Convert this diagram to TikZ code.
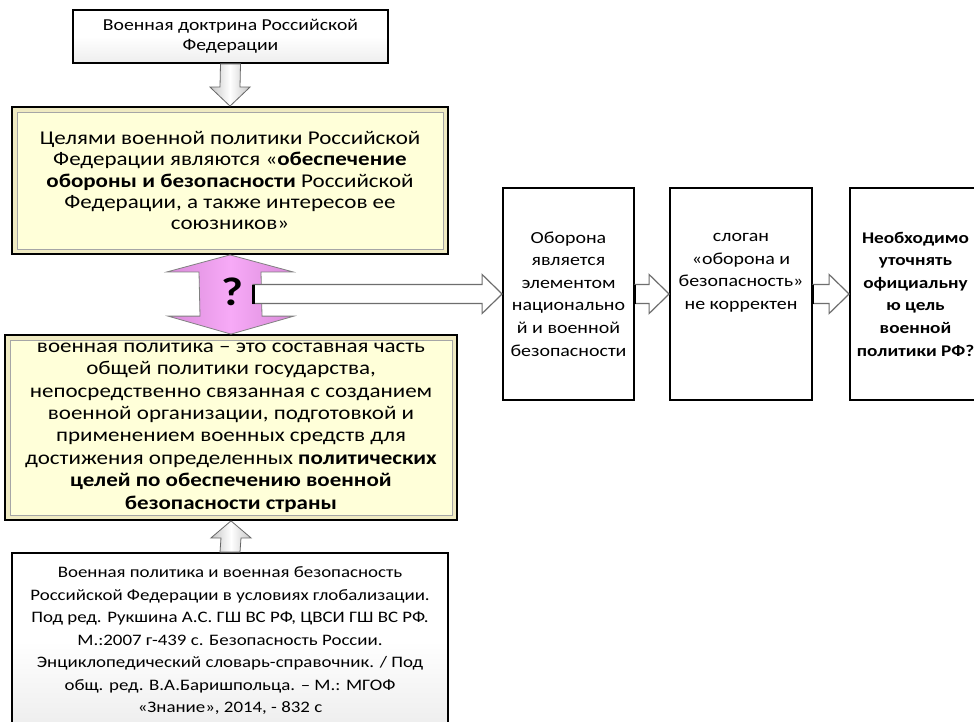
\documentclass[tikz,border=0pt]{standalone}
\usepackage{fontspec}
\setmainfont{Carlito}[FakeStretch=1.18]
\usetikzlibrary{calc}
\definecolor{yellowfill}{HTML}{FFFFD9}
\definecolor{yellowframe}{HTML}{EFEAC2}
\definecolor{pinkmid}{HTML}{F7AAF7}
\definecolor{pinkedge}{HTML}{D98AD9}
\definecolor{arrowgray}{HTML}{6E6E6E}

\tikzset{
  whitebox/.style={draw,line width=1.8pt,top color=white,bottom color=gray!14,middle color=white,align=center,inner sep=0pt},
  yellowbox/.style={draw,line width=1.8pt,fill=yellowframe,align=center,inner sep=0pt,
    path picture={\draw[fill=yellowfill,draw=gray!70,line width=0.8pt] ([shift={(5pt,-5pt)}]path picture bounding box.north west) rectangle ([shift={(-5pt,5pt)}]path picture bounding box.south east);}},
  sidebox/.style={draw,line width=1.8pt,fill=white,align=center,inner sep=0pt,minimum height=212pt,font=\fontsize{16.9}{22.6}\selectfont},
  grayarrow/.style={draw=gray!80!black,line width=0.8pt,left color=gray!45,right color=gray!45,middle color=white},
  pinkarrow/.style={draw=gray,line width=0.8pt,left color=pinkedge,right color=pinkedge,middle color=pinkmid},
  hollowarrow/.style={draw=arrowgray,line width=1.2pt,fill=white},
  arrowtail/.style={line width=3pt,black}
}

\begin{document}
\begin{tikzpicture}[x=1pt,y=-1pt]
  \useasboundingbox[fill=white] (0,0) rectangle (974,722);

  \node[whitebox,minimum width=315pt,minimum height=53pt,font=\fontsize{16.7}{20}\selectfont] (doctrine) at (230.5,36.5) {Военная доктрина Российской\\Федерации};
  \node[yellowbox,minimum width=436pt,minimum height=147pt,font=\fontsize{19.5}{21.3}\selectfont] (goals) at (230,180.5) {Целями военной политики Российской\\Федерации являются «\textbf{обеспечение}\\\textbf{обороны и безопасности} Российской\\Федерации, а также интересов ее\\союзников»};
  \node[yellowbox,minimum width=452pt,minimum height=185pt,font=\fontsize{19.5}{22.4}\selectfont] (policy) at (231,427.5) {военная политика – это составная часть\\общей политики государства,\\непосредственно связанная с созданием\\военной организации, подготовкой и\\применением военных средств для\\достижения определенных \textbf{политических}\\\textbf{целей по обеспечению военной}\\\textbf{безопасности страны}};
  \node[whitebox,minimum width=436pt,minimum height=176pt,font=\fontsize{16}{22.5}\selectfont] (source) at (230,641) {Военная политика и военная безопасность\\Российской Федерации в условиях глобализации.\\Под ред. Рукшина А.С. ГШ ВС РФ, ЦВСИ ГШ ВС РФ.\\М.:2007 г-439 с. Безопасность России.\\Энциклопедический словарь-справочник. / Под\\общ. ред. В.А.Баришпольца. – М.: МГОФ\\«Знание», 2014, - 832 с};

  \node[sidebox,minimum width=131pt] (defense) at (568.5,294) {Оборона\\является\\элементом\\национально\\й и военной\\безопасности};
  \node[sidebox,minimum width=142pt] (slogan) at (741,294) {слоган\\«оборона и\\безопасность»\\не корректен\\~\\~};
  \node[sidebox,minimum width=131pt,font=\bfseries\fontsize{16.3}{22.6}\selectfont] (clarify) at (915.5,294) {Необходимо\\уточнять\\официальну\\ю цель\\военной\\политики РФ?};

  % block arrows between the left boxes
  \draw[grayarrow] ($(doctrine.south)+(-10,0)$) -- ($(goals.north)+(-10,-19)$) -- ($(goals.north)+(-20,-19)$) -- (goals.north) -- ($(goals.north)+(20,-19)$) -- ($(goals.north)+(10,-19)$) -- ($(doctrine.south)+(10,0)$) -- cycle;
  \draw[grayarrow] ($(source.north)+(-10,0)$) -- ($(policy.south)+(-10,17)$) -- ($(policy.south)+(-20,17)$) -- (policy.south) -- ($(policy.south)+(20,17)$) -- ($(policy.south)+(10,17)$) -- ($(source.north)+(10,0)$) -- cycle;
  \draw[pinkarrow] (goals.south) -- ($(goals.south)+(63,17)$) -- ($(goals.south)+(31,17)$) -- ($(policy.north)+(31,-18)$) -- ($(policy.north)+(63,-18)$) -- (policy.north) -- ($(policy.north)+(-63,-18)$) -- ($(policy.north)+(-31,-18)$) -- ($(goals.south)+(-31,17)$) -- ($(goals.south)+(-63,17)$) -- cycle;
  \node[font=\bfseries\fontsize{40}{40}\selectfont] (quest) at (232,292) {?};
  \coordinate (hub) at (253,294);

  % arrows to the right
  \draw[hollowarrow] ($(hub)+(0,-9.5)$) -- ($(defense.west)+(-20,-9.5)$) -- ($(defense.west)+(-20,-19.5)$) -- (defense.west) -- ($(defense.west)+(-20,19.5)$) -- ($(defense.west)+(-20,9.5)$) -- ($(hub)+(0,9.5)$) -- cycle;
  \draw[arrowtail] ($(hub)+(0,-9.5)$) -- ($(hub)+(0,9.5)$);
  \draw[hollowarrow] ($(defense.east)+(0,-9.5)$) -- ($(slogan.west)+(-20,-9.5)$) -- ($(slogan.west)+(-20,-19.5)$) -- (slogan.west) -- ($(slogan.west)+(-20,19.5)$) -- ($(slogan.west)+(-20,9.5)$) -- ($(defense.east)+(0,9.5)$) -- cycle;
  \draw[arrowtail] ($(defense.east)+(0,-9.5)$) -- ($(defense.east)+(0,9.5)$);
  \draw[hollowarrow] ($(slogan.east)+(0,-9.5)$) -- ($(clarify.west)+(-20,-9.5)$) -- ($(clarify.west)+(-20,-19.5)$) -- (clarify.west) -- ($(clarify.west)+(-20,19.5)$) -- ($(clarify.west)+(-20,9.5)$) -- ($(slogan.east)+(0,9.5)$) -- cycle;
  \draw[arrowtail] ($(slogan.east)+(0,-9.5)$) -- ($(slogan.east)+(0,9.5)$);
\end{tikzpicture}
\end{document}
